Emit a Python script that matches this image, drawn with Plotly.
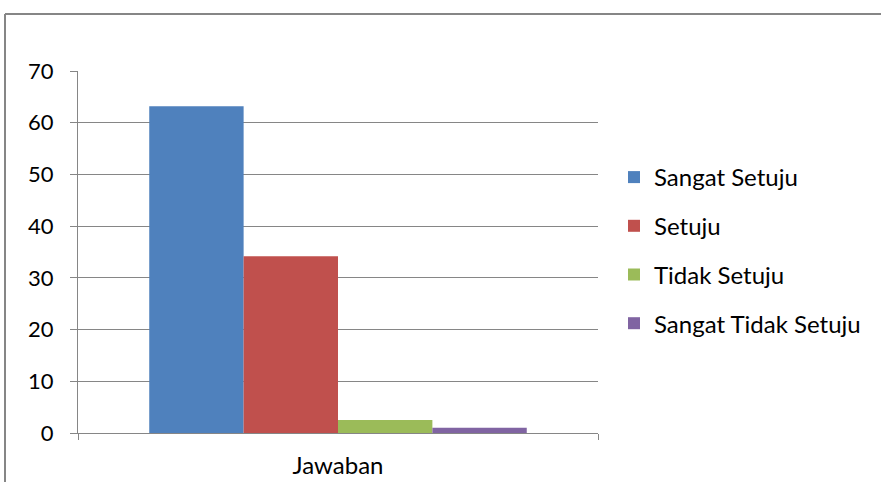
import plotly.graph_objects as go

categories = ["Jawaban"]
series_names = ["Sangat Setuju", "Setuju", "Tidak Setuju", "Sangat Tidak Setuju"]
series_values = [[63.2], [34.2], [2.5], [1.0]]
colors = ["#4F81BD", "#C0504D", "#9BBB59", "#8064A2"]
y_ticks = [0, 10, 20, 30, 40, 50, 60, 70]

fig = go.Figure()
for name, vals, c in zip(series_names, series_values, colors):
    fig.add_trace(go.Bar(x=categories, y=vals, name=name, marker=dict(color=c, line=dict(width=0)),
                         legendgroup=name))

W, H = 881, 482
L, R, T, B = 78, 283, 71, 49
pw, ph = W - L - R, H - T - B
fam = "Lato, Open Sans, sans-serif"
font = dict(family=fam, size=22, color="#000000")
font_big = dict(family=fam, size=24, color="#000000")

fig.update_layout(
    width=W, height=H,
    margin=dict(l=L, r=R, t=T, b=B, pad=0, autoexpand=False),
    paper_bgcolor="white", plot_bgcolor="white",
    barmode="group", bargap=0.274, bargroupgap=0,
    font=font,
    showlegend=True,
    legend=dict(x=(614 - L) / pw, y=(433 - 155) / ph, xanchor="left", yanchor="top",
                traceorder="grouped", tracegroupgap=14.5, font=font_big,
                bgcolor="rgba(0,0,0,0)", itemwidth=30),
    xaxis=dict(showline=True, linecolor="#868686", linewidth=1, ticks="outside",
               tickson="boundaries", ticklen=6, tickcolor="#868686", showgrid=False,
               tickfont=font_big, ticklabelstandoff=11, automargin=False),
    yaxis=dict(range=[0, 70], tickvals=y_ticks, showline=True, linecolor="#868686", linewidth=1,
               ticks="outside", ticklen=7, tickcolor="#868686", showgrid=True,
               gridcolor="#868686", gridwidth=1, zeroline=False, tickfont=font,
               ticklabelstandoff=12, automargin=False),
    shapes=[
        dict(type="line", xref="paper", yref="paper", x0=(5 - L) / pw, x1=(W + 5 - L) / pw,
             y0=(H - B - 14) / ph, y1=(H - B - 14) / ph, line=dict(color="#868686", width=2)),
        dict(type="line", xref="paper", yref="paper", x0=(5 - L) / pw, x1=(5 - L) / pw,
             y0=(H - B - 14) / ph, y1=(H - B - 500) / ph, line=dict(color="#868686", width=2)),
    ],
)

fig.write_html("out.html")
